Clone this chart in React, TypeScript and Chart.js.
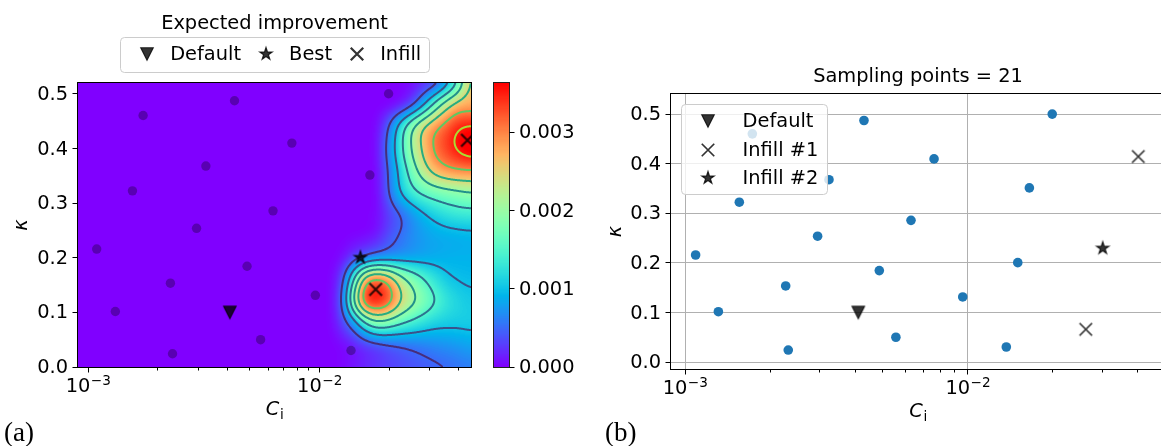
import React, { useEffect, useRef } from 'react';
import { Chart, registerables } from 'chart.js';

Chart.register(...registerables);

/* ---------------- data ---------------- */
// sampling points (C_i, kappa), shared by both panels
const SAMPLE_CI = [0.00109, 0.001312, 0.001556, 0.00173, 0.00227, 0.002318, 0.002944, 0.00323, 0.004295, 0.004866, 0.00557, 0.0063, 0.0076, 0.0096, 0.01369, 0.01503, 0.01652, 0.0199];
const SAMPLE_KAPPA = [0.216, 0.1016, 0.3226, 0.4606, 0.1535, 0.0242, 0.254, 0.368, 0.4875, 0.1845, 0.05, 0.286, 0.41, 0.1313, 0.0303, 0.2006, 0.3515, 0.5004];
const BEST_SAMPLE_INDEX = 15;

const DEFAULT_CI = [0.0041];
const DEFAULT_KAPPA = [0.1];

// panel (a) infill candidates
const EI_INFILL_CI = [0.0175, 0.0436];
const EI_INFILL_KAPPA = [0.1421, 0.4152];

// panel (b)
const INFILL1_CI = [0.02615, 0.0401];
const INFILL1_KAPPA = [0.066, 0.4148];
const INFILL2_CI = [0.03002];
const INFILL2_KAPPA = [0.2297];

const X_MAJOR_TICKS = [0.001, 0.01];
const X_MAJOR_BASE = ['10', '10'];
const X_MAJOR_EXP = ['−3', '−2'];
const X_MINOR_TICKS = [0.002, 0.003, 0.004, 0.005, 0.006, 0.007, 0.008, 0.009, 0.02, 0.03, 0.04];
const Y_TICKS = [0, 0.1, 0.2, 0.3, 0.4, 0.5];
const Y_TICK_LABELS = ['0.0', '0.1', '0.2', '0.3', '0.4', '0.5'];
const CBAR_TICKS = [0, 0.001, 0.002, 0.003];
const CBAR_TICK_LABELS = ['0.000', '0.001', '0.002', '0.003'];
const CONTOUR_LEVELS = [0.0005, 0.001, 0.0015, 0.002, 0.0025, 0.003, 0.0035];

const EI_MAX = 0.00363;
const LEFT_X_RANGE = [0.000905, 0.04518];
const LEFT_Y_RANGE = [0, 0.5201];
const RIGHT_X_RANGE = [0.000892, 0.04986];
const RIGHT_Y_RANGE = [-0.0141, 0.541];

const LEFT_TITLE = 'Expected improvement';
const RIGHT_TITLE = 'Sampling points = 21';
const Y_TITLE = 'κ';
const X_TITLE = 'C';
const X_TITLE_SUB = 'i';

// Expected-improvement field, units of 1e-4
const EI_UNIT = 1e-4;
const EI_GRID_LOG_CI = [-2.0, -1.95, -1.9, -1.85, -1.8, -1.75, -1.7, -1.65, -1.6, -1.55, -1.5, -1.45, -1.4, -1.35];
const EI_GRID_KAPPA = [0, 0.04, 0.08, 0.12, 0.16, 0.2, 0.24, 0.28, 0.32, 0.36, 0.4, 0.44, 0.48, 0.52];
const EI_K00 = [0, 0, 0.3, 1.0, 1.8, 2.4, 3.0, 3.4, 3.8, 4.2, 4.6, 5.0, 5.5, 6.0];
const EI_K04 = [0, 0, 0.5, 1.5, 3.0, 4.0, 4.8, 5.3, 5.8, 6.3, 6.8, 7.2, 7.6, 8.2];
const EI_K08 = [0, 0.2, 3.0, 7.8, 15, 18.5, 17.5, 15.3, 13.7, 12.2, 11.1, 10.7, 10.6, 10.7];
const EI_K12 = [0, 0.3, 5.2, 20.5, 32.8, 34.6, 31.6, 25, 21, 17.8, 15, 12.6, 11.3, 10.6];
const EI_K16 = [0, 0.2, 3.7, 15.5, 28, 31, 28, 22, 18.3, 15.2, 12.6, 10.6, 9.9, 9.6];
const EI_K20 = [0, 0, 0.8, 3.5, 6, 7.5, 8, 8.2, 8.4, 8.6, 8.8, 8.9, 9, 9];
const EI_K24 = [0, 0, 0, 0.3, 0.6, 1.5, 3.8, 5.3, 6.8, 7.8, 8.5, 8.8, 9.0, 9.2];
const EI_K28 = [0, 0, 0, 0, 0.1, 0.5, 3, 5, 7.5, 9.7, 11.3, 12.5, 13.2, 13.5];
const EI_K32 = [0, 0, 0, 0, 0, 0.4, 5, 10, 13.7, 16, 17.5, 18.5, 19.3, 20];
const EI_K36 = [0, 0, 0, 0, 0, 0.5, 5.5, 11.5, 17.5, 22.8, 26.8, 28.8, 29.6, 30];
const EI_K40 = [0, 0, 0, 0, 0, 0.8, 6.5, 13.5, 20.5, 26, 30.8, 33.2, 35.6, 37.2];
const EI_K44 = [0, 0, 0, 0, 0, 0.5, 5, 12, 19, 24.8, 28.8, 31.8, 34.6, 35.4];
const EI_K48 = [0, 0, 0, 0, 0, 0, 0.3, 1.5, 4.3, 9.7, 16.8, 23, 27, 28];
const EI_K52 = [0, 0, 0, 0, 0, 0, 0, 0.1, 0.5, 2, 3.5, 8.5, 16, 26];
const EI_ROWS = [EI_K00, EI_K04, EI_K08, EI_K12, EI_K16, EI_K20, EI_K24, EI_K28, EI_K32, EI_K36, EI_K40, EI_K44, EI_K48, EI_K52];

/* ---------------- styles ---------------- */
const FONT = "'DejaVu Sans', 'Noto Sans', sans-serif";
const FS = 19.4;
const MARK = 'rgba(0,0,0,0.8)';
const BLUE = '#1f77b4';
const CONTOUR_COLORS = ['#472d7b', '#3b528b', '#2c728e', '#21918c', '#27ad81', '#5ec962', '#aadc32'];
const SMOOTH_SIGMA_PX = 5;

/* ---------------- helpers ---------------- */
function rainbowRGB(t: number): [number, number, number] {
  const x = Math.floor(Math.min(1, Math.max(0, t)) * 255.999) / 255;
  const r = Math.min(1, Math.abs(2 * x - 0.5));
  const g = Math.sin(Math.PI * x);
  const b = Math.cos((Math.PI * x) / 2);
  return [Math.round(r * 255), Math.round(g * 255), Math.round(b * 255)];
}

function makeMarker(kind: string, size: number, color: string, lw = 1.6): HTMLCanvasElement {
  let S = Math.ceil(size + 6);
  if (S % 2) S += 1;
  const c = document.createElement('canvas');
  c.width = S;
  c.height = S;
  const g = c.getContext('2d') as CanvasRenderingContext2D;
  const m = S / 2;
  const r = size / 2;
  g.fillStyle = color;
  g.strokeStyle = color;
  g.lineJoin = 'miter';
  g.beginPath();
  if (kind === 'tri') {
    g.moveTo(m - r, m - r);
    g.lineTo(m + r, m - r);
    g.lineTo(m, m + r);
    g.closePath();
    g.lineWidth = lw;
    g.fill();
    g.stroke();
  } else if (kind === 'star') {
    for (let i = 0; i < 10; i++) {
      const ang = -Math.PI / 2 + (i * Math.PI) / 5;
      const rr = i % 2 ? r * 0.381966 : r;
      const px = m + rr * Math.cos(ang);
      const py = m + rr * Math.sin(ang);
      if (i === 0) g.moveTo(px, py);
      else g.lineTo(px, py);
    }
    g.closePath();
    g.lineWidth = lw;
    g.fill();
    g.stroke();
  } else {
    g.lineWidth = lw;
    g.moveTo(m - r, m - r);
    g.lineTo(m + r, m + r);
    g.moveTo(m + r, m - r);
    g.lineTo(m - r, m + r);
    g.stroke();
  }
  return c;
}

function catmull(p0: number, p1: number, p2: number, p3: number, t: number) {
  return 0.5 * (2 * p1 + (p2 - p0) * t + (2 * p0 - 5 * p1 + 4 * p2 - p3) * t * t + (3 * p1 - p0 - 3 * p2 + p3) * t * t * t);
}

function eiAt(logCi: number, kappa: number) {
  const nU = EI_GRID_LOG_CI.length;
  const nK = EI_GRID_KAPPA.length;
  const du = EI_GRID_LOG_CI[1] - EI_GRID_LOG_CI[0];
  const dk = EI_GRID_KAPPA[1] - EI_GRID_KAPPA[0];
  const fx = Math.min(nU - 1, Math.max(0, (logCi - EI_GRID_LOG_CI[0]) / du));
  const fy = Math.min(nK - 1, Math.max(0, (kappa - EI_GRID_KAPPA[0]) / dk));
  const ix = Math.min(nU - 2, Math.floor(fx));
  const iy = Math.min(nK - 2, Math.floor(fy));
  const tx = fx - ix;
  const ty = fy - iy;
  const ci = (i: number) => Math.min(nU - 1, Math.max(0, i));
  const ri = (i: number) => Math.min(nK - 1, Math.max(0, i));
  const v = [0, 0, 0, 0];
  for (let m = 0; m < 4; m++) {
    const R = EI_ROWS[ri(iy - 1 + m)];
    v[m] = catmull(R[ci(ix - 1)], R[ci(ix)], R[ci(ix + 1)], R[ci(ix + 2)], tx);
  }
  return Math.max(0, catmull(v[0], v[1], v[2], v[3], ty)) * EI_UNIT;
}

function gaussBlur(field: Float64Array, W: number, H: number, sigma: number) {
  const r = Math.ceil(sigma * 3);
  const ker: number[] = [];
  let sum = 0;
  for (let i = -r; i <= r; i++) {
    const k = Math.exp((-i * i) / (2 * sigma * sigma));
    ker.push(k);
    sum += k;
  }
  for (let i = 0; i < ker.length; i++) ker[i] /= sum;
  const tmp = new Float64Array(W * H);
  for (let j = 0; j < H; j++) {
    for (let i = 0; i < W; i++) {
      let acc = 0;
      for (let t = -r; t <= r; t++) {
        const ii = Math.min(W - 1, Math.max(0, i + t));
        acc += ker[t + r] * field[j * W + ii];
      }
      tmp[j * W + i] = acc;
    }
  }
  for (let i = 0; i < W; i++) {
    for (let j = 0; j < H; j++) {
      let acc = 0;
      for (let t = -r; t <= r; t++) {
        const jj = Math.min(H - 1, Math.max(0, j + t));
        acc += ker[t + r] * tmp[jj * W + i];
      }
      field[j * W + i] = acc;
    }
  }
}

function xTickObjects() {
  const a: any[] = X_MAJOR_TICKS.map((v) => ({ value: v }));
  X_MINOR_TICKS.forEach((v) => a.push({ value: v, minor: true }));
  return a.sort((p, q) => p.value - q.value);
}

function logXScale(range: number[], heightPx: number, showGrid: boolean) {
  return {
    type: 'logarithmic',
    min: range[0],
    max: range[1],
    bounds: 'data',
    afterBuildTicks: (s: any) => {
      s.ticks = xTickObjects();
    },
    ticks: {
      autoSkip: false,
      maxRotation: 0,
      minRotation: 0,
      padding: 7,
      color: '#000',
      font: { family: FONT, size: FS },
      // major labels (10 with a superscript exponent) are drawn by the decor plugin
      callback: () => '',
    },
    grid: {
      display: showGrid,
      drawTicks: false,
      lineWidth: 1,
      color: (c: any) => (c.tick && c.tick.minor ? 'rgba(0,0,0,0)' : '#b0b0b0'),
    },
    border: { display: false },
    afterFit: (s: any) => {
      s.height = heightPx;
      s.paddingLeft = 0;
      s.paddingRight = 0;
    },
  };
}

function linYScale(range: number[], ticks: number[], labels: string[], widthPx: number, position: string, showGrid: boolean) {
  return {
    type: 'linear',
    position,
    min: range[0],
    max: range[1],
    bounds: 'data',
    afterBuildTicks: (s: any) => {
      s.ticks = ticks.map((v) => ({ value: v }));
    },
    ticks: {
      autoSkip: false,
      padding: 10,
      labelOffset: 1,
      color: '#000',
      font: { family: FONT, size: FS },
      callback: (v: number) => {
        const i = ticks.findIndex((t) => Math.abs(t - v) < 1e-9);
        return i >= 0 ? labels[i] : '';
      },
    },
    grid: { display: showGrid, drawTicks: false, color: '#b0b0b0', lineWidth: 1 },
    border: { display: false },
    afterFit: (s: any) => {
      s.width = widthPx;
      s.paddingTop = 0;
      s.paddingBottom = 0;
    },
  };
}

function drawFrame(ctx: CanvasRenderingContext2D, a: any, color = '#000') {
  ctx.save();
  ctx.strokeStyle = color;
  ctx.lineWidth = 1;
  ctx.strokeRect(a.left - 0.5, a.top - 0.5, a.right - a.left + 1, a.bottom - a.top + 1);
  ctx.restore();
}

function drawTickMarks(chart: any, id: string, side: string) {
  const s = chart.scales[id];
  const a = chart.chartArea;
  const ctx = chart.ctx;
  ctx.save();
  ctx.strokeStyle = '#000';
  ctx.lineWidth = 1;
  ctx.beginPath();
  for (const t of s.ticks) {
    const p = Math.round(s.getPixelForValue(t.value) - 0.5) + 0.5;
    const len = t.minor ? 3 : 5;
    if (side === 'bottom') {
      ctx.moveTo(p, a.bottom + 0.5);
      ctx.lineTo(p, a.bottom + 0.5 + len);
    } else if (side === 'left') {
      ctx.moveTo(a.left - 0.5, p);
      ctx.lineTo(a.left - 0.5 - len, p);
    } else {
      ctx.moveTo(a.right + 0.5, p);
      ctx.lineTo(a.right + 0.5 + len, p);
    }
  }
  ctx.stroke();
  ctx.restore();
}

function drawLogLabels(chart: any) {
  const s = chart.scales.x;
  const a = chart.chartArea;
  const ctx = chart.ctx;
  const fBase = `${FS}px ${FONT}`;
  const fExp = `${(FS * 0.7).toFixed(1)}px ${FONT}`;
  ctx.save();
  ctx.fillStyle = '#000';
  ctx.textAlign = 'left';
  ctx.textBaseline = 'alphabetic';
  const baseline = a.bottom + 25;
  X_MAJOR_TICKS.forEach((v, i) => {
    const p = s.getPixelForValue(v);
    ctx.font = fBase;
    const wb = ctx.measureText(X_MAJOR_BASE[i]).width;
    ctx.font = fExp;
    const we = ctx.measureText(X_MAJOR_EXP[i]).width;
    const x0 = p - (wb + we) / 2;
    ctx.font = fBase;
    ctx.fillText(X_MAJOR_BASE[i], x0, baseline);
    ctx.font = fExp;
    ctx.fillText(X_MAJOR_EXP[i], x0 + wb + 0.5, baseline - 0.36 * FS);
  });
  ctx.restore();
}

function drawXTitle(ctx: CanvasRenderingContext2D, cx: number, baseline: number) {
  ctx.save();
  ctx.fillStyle = '#000';
  ctx.textAlign = 'left';
  ctx.textBaseline = 'alphabetic';
  const fMain = `italic ${FS}px ${FONT}`;
  const fSub = `${(FS * 0.7).toFixed(1)}px ${FONT}`;
  ctx.font = fMain;
  const wC = ctx.measureText(X_TITLE).width;
  ctx.font = fSub;
  const wi = ctx.measureText(X_TITLE_SUB).width;
  const x0 = cx - (wC + wi) / 2;
  ctx.font = fMain;
  ctx.fillText(X_TITLE, x0, baseline);
  ctx.font = fSub;
  ctx.fillText(X_TITLE_SUB, x0 + wC + 0.5, baseline + 0.22 * FS);
  ctx.restore();
}

function drawYTitle(ctx: CanvasRenderingContext2D, cx: number, cy: number) {
  ctx.save();
  ctx.translate(cx, cy);
  ctx.rotate(-Math.PI / 2);
  ctx.fillStyle = '#000';
  ctx.font = `italic ${FS}px ${FONT}`;
  ctx.textAlign = 'center';
  ctx.textBaseline = 'alphabetic';
  ctx.fillText(Y_TITLE, 0, 0.28 * FS);
  ctx.restore();
}

function roundBox(ctx: CanvasRenderingContext2D, x0: number, y0: number, w0: number, h0: number, r = 4) {
  const x = Math.round(x0) + 0.5;
  const y = Math.round(y0) + 0.5;
  const w = Math.round(w0);
  const h = Math.round(h0);
  ctx.save();
  ctx.beginPath();
  ctx.moveTo(x + r, y);
  ctx.arcTo(x + w, y, x + w, y + h, r);
  ctx.arcTo(x + w, y + h, x, y + h, r);
  ctx.arcTo(x, y + h, x, y, r);
  ctx.arcTo(x, y, x + w, y, r);
  ctx.closePath();
  ctx.fillStyle = 'rgba(255,255,255,0.8)';
  ctx.fill();
  ctx.strokeStyle = '#cccccc';
  ctx.lineWidth = 1;
  ctx.stroke();
  ctx.restore();
}

function legendItems(chart: any, n: number) {
  return chart.data.datasets.slice(0, n).map((d: any) => ({ label: d.label, marker: d.pointStyle }));
}

function drawHLegend(ctx: CanvasRenderingContext2D, items: any[], cx: number, top: number, bottom: number) {
  ctx.save();
  ctx.font = `${FS}px ${FONT}`;
  const pad = 0.4 * FS;
  const hl = 2 * FS;
  const tp = 0.18 * FS;
  const cs = 0.3 * FS;
  const ws = items.map((it) => ctx.measureText(it.label).width);
  let W = 2 * pad + cs * (items.length - 1);
  ws.forEach((w) => (W += hl + tp + w));
  const left = cx - W / 2;
  roundBox(ctx, left, top, W, bottom - top);
  const my = (top + bottom) / 2;
  let x = left + pad;
  ctx.fillStyle = '#000';
  ctx.textAlign = 'left';
  ctx.textBaseline = 'alphabetic';
  items.forEach((it, i) => {
    ctx.drawImage(it.marker, Math.round(x + hl / 2 - it.marker.width / 2), Math.round(my - it.marker.height / 2));
    ctx.fillText(it.label, x + hl + tp, my + 5.8);
    x += hl + tp + ws[i] + cs;
  });
  ctx.restore();
}

function drawVLegend(ctx: CanvasRenderingContext2D, items: any[], left: number, top: number) {
  ctx.save();
  ctx.font = `${FS}px ${FONT}`;
  const pad = 0.4 * FS;
  const hl = 2 * FS;
  const tp = 0.8 * FS;
  const maxW = Math.max(...items.map((it) => ctx.measureText(it.label).width));
  const W = 2 * pad + hl + tp + maxW;
  const step = 28.8;
  const first = 16.7;
  const H = first * 2 + step * (items.length - 1) - 1;
  roundBox(ctx, left, top, W, H);
  ctx.fillStyle = '#000';
  ctx.textAlign = 'left';
  ctx.textBaseline = 'alphabetic';
  items.forEach((it, i) => {
    const my = top + first + i * step;
    ctx.drawImage(it.marker, Math.round(left + pad + hl / 2 - it.marker.width / 2), Math.round(my - it.marker.height / 2));
    ctx.fillText(it.label, left + pad + hl + tp, my + 6);
  });
  ctx.restore();
}

/* ---------------- plugins ---------------- */
const eiHeatPlugin = {
  id: 'eiHeat',
  beforeDatasetsDraw(chart: any) {
    const { ctx, chartArea: a } = chart;
    const xs = chart.scales.x;
    const ys = chart.scales.y;
    const L = Math.round(a.left);
    const T = Math.round(a.top);
    const W = Math.round(a.right) - L;
    const H = Math.round(a.bottom) - T;
    const field = new Float64Array(W * H);
    const logCol = new Float64Array(W);
    for (let i = 0; i < W; i++) logCol[i] = Math.log10(xs.getValueForPixel(L + i + 0.5));
    for (let j = 0; j < H; j++) {
      const k = ys.getValueForPixel(T + j + 0.5);
      for (let i = 0; i < W; i++) field[j * W + i] = eiAt(logCol[i], k);
    }
    gaussBlur(field, W, H, SMOOTH_SIGMA_PX);
    const off = document.createElement('canvas');
    off.width = W;
    off.height = H;
    const octx = off.getContext('2d') as CanvasRenderingContext2D;
    const img = octx.createImageData(W, H);
    for (let p = 0; p < W * H; p++) {
      const c = rainbowRGB(field[p] / EI_MAX);
      img.data[p * 4] = c[0];
      img.data[p * 4 + 1] = c[1];
      img.data[p * 4 + 2] = c[2];
      img.data[p * 4 + 3] = 255;
    }
    octx.putImageData(img, 0, 0);
    ctx.save();
    ctx.drawImage(off, L, T);
    ctx.beginPath();
    ctx.rect(L, T, W, H);
    ctx.clip();
    ctx.lineWidth = 2;
    ctx.lineCap = 'round';
    ctx.lineJoin = 'round';
    CONTOUR_LEVELS.forEach((lev, li) => {
      ctx.strokeStyle = CONTOUR_COLORS[li];
      ctx.beginPath();
      for (let j = 0; j < H - 1; j++) {
        for (let i = 0; i < W - 1; i++) {
          const va = field[j * W + i];
          const vb = field[j * W + i + 1];
          const vc = field[(j + 1) * W + i + 1];
          const vd = field[(j + 1) * W + i];
          let idx = 0;
          if (va > lev) idx |= 8;
          if (vb > lev) idx |= 4;
          if (vc > lev) idx |= 2;
          if (vd > lev) idx |= 1;
          if (idx === 0 || idx === 15) continue;
          const x0 = L + i + 0.5;
          const y0 = T + j + 0.5;
          const top = () => [x0 + (lev - va) / (vb - va), y0];
          const right = () => [x0 + 1, y0 + (lev - vb) / (vc - vb)];
          const bottom = () => [x0 + (lev - vd) / (vc - vd), y0 + 1];
          const left = () => [x0, y0 + (lev - va) / (vd - va)];
          const seg = (p: number[], q: number[]) => {
            ctx.moveTo(p[0], p[1]);
            ctx.lineTo(q[0], q[1]);
          };
          switch (idx) {
            case 1: case 14: seg(left(), bottom()); break;
            case 2: case 13: seg(bottom(), right()); break;
            case 3: case 12: seg(left(), right()); break;
            case 4: case 11: seg(top(), right()); break;
            case 6: case 9: seg(top(), bottom()); break;
            case 7: case 8: seg(left(), top()); break;
            case 5: seg(left(), top()); seg(bottom(), right()); break;
            case 10: seg(top(), right()); seg(left(), bottom()); break;
            default: break;
          }
        }
      }
      ctx.stroke();
    });
    ctx.restore();
  },
};

const cbarPlugin = {
  id: 'cbarFill',
  beforeDatasetsDraw(chart: any) {
    const { ctx, chartArea: a } = chart;
    const ys = chart.scales.y;
    const L = Math.round(a.left);
    const T = Math.round(a.top);
    const W = Math.round(a.right) - L;
    const H = Math.round(a.bottom) - T;
    ctx.save();
    for (let j = 0; j < H; j++) {
      const v = ys.getValueForPixel(T + j + 0.5);
      const c = rainbowRGB(v / EI_MAX);
      ctx.fillStyle = `rgb(${c[0]},${c[1]},${c[2]})`;
      ctx.fillRect(L, T + j, W, 1);
    }
    ctx.restore();
  },
  afterDraw(chart: any) {
    drawFrame(chart.ctx, chart.chartArea, '#222');
    drawTickMarks(chart, 'y', 'right');
  },
};

/* ---------------- charts ---------------- */
function pts(xs: number[], ys: number[]) {
  return xs.map((x, i) => ({ x, y: ys[i] }));
}

function makeLeft(canvas: HTMLCanvasElement) {
  const tri = makeMarker('tri', 12.5, MARK, 1.2);
  const star = makeMarker('star', 13, MARK, 1.2);
  const cross = makeMarker('x', 12.5, MARK, 2.2);
  const samples = pts(SAMPLE_CI, SAMPLE_KAPPA).filter((_, i) => i !== BEST_SAMPLE_INDEX);
  const decor = {
    id: 'leftDecor',
    afterDraw(chart: any) {
      const { ctx, chartArea: a } = chart;
      drawFrame(ctx, a);
      drawTickMarks(chart, 'x', 'bottom');
      drawTickMarks(chart, 'y', 'left');
      drawLogLabels(chart);
      const cx = (a.left + a.right) / 2;
      drawXTitle(ctx, cx, a.bottom + 48);
      drawYTitle(ctx, 21.5, (a.top + a.bottom) / 2);
      ctx.save();
      ctx.font = `${FS}px ${FONT}`;
      ctx.fillStyle = '#000';
      ctx.textAlign = 'center';
      ctx.textBaseline = 'alphabetic';
      ctx.fillText(LEFT_TITLE, cx, 29.3);
      ctx.restore();
      drawHLegend(ctx, legendItems(chart, 3), cx, 36.7, 71.7);
    },
  };
  return new Chart(canvas, {
    type: 'scatter',
    data: {
      datasets: [
        { label: 'Default', data: pts(DEFAULT_CI, DEFAULT_KAPPA), pointStyle: tri, pointRadius: 7, clip: 0 },
        { label: 'Best', data: [{ x: SAMPLE_CI[BEST_SAMPLE_INDEX], y: SAMPLE_KAPPA[BEST_SAMPLE_INDEX] }], pointStyle: star, pointRadius: 7, clip: 0 },
        { label: 'Infill', data: pts(EI_INFILL_CI, EI_INFILL_KAPPA), pointStyle: cross, pointRadius: 7, clip: 0 },
        { label: 'samples', data: samples, pointStyle: 'circle', pointRadius: 4.7, backgroundColor: 'rgba(0,0,0,0.3)', borderWidth: 0, clip: 0 },
      ],
    } as any,
    options: {
      animation: false,
      responsive: false,
      devicePixelRatio: 1,
      events: [],
      layout: { padding: { left: 0, right: 77, top: 83, bottom: 0 } },
      plugins: { legend: { display: false }, tooltip: { enabled: false } },
      scales: {
        x: logXScale(LEFT_X_RANGE, 79, false),
        y: linYScale(LEFT_Y_RANGE, Y_TICKS, Y_TICK_LABELS, 78, 'left', false),
      },
    } as any,
    plugins: [eiHeatPlugin, decor],
  });
}

function makeCbar(canvas: HTMLCanvasElement) {
  return new Chart(canvas, {
    type: 'scatter',
    data: { datasets: [] },
    options: {
      animation: false,
      responsive: false,
      devicePixelRatio: 1,
      events: [],
      layout: { padding: { left: 14, right: 0, top: 83, bottom: 79 } },
      plugins: { legend: { display: false }, tooltip: { enabled: false } },
      scales: {
        x: { display: false, min: 0, max: 1 },
        y: linYScale([0, EI_MAX], CBAR_TICKS, CBAR_TICK_LABELS, 81, 'right', false),
      },
    } as any,
    plugins: [cbarPlugin],
  });
}

function makeRight(canvas: HTMLCanvasElement) {
  const tri = makeMarker('tri', 12.5, MARK, 1.2);
  const star = makeMarker('star', 13, MARK, 1.2);
  const cross = makeMarker('x', 12.5, MARK, 1.7);
  const decor = {
    id: 'rightDecor',
    afterDatasetsDraw(chart: any) {
      drawVLegend(chart.ctx, legendItems(chart, 3), chart.chartArea.left + 9.5, chart.chartArea.top + 10);
    },
    afterDraw(chart: any) {
      const { ctx, chartArea: a } = chart;
      drawFrame(ctx, a);
      drawTickMarks(chart, 'x', 'bottom');
      drawTickMarks(chart, 'y', 'left');
      drawLogLabels(chart);
      const cx = (a.left + a.right) / 2;
      drawXTitle(ctx, cx, a.bottom + 48);
      drawYTitle(ctx, 16, (a.top + a.bottom) / 2);
      ctx.save();
      ctx.font = `${FS}px ${FONT}`;
      ctx.fillStyle = '#000';
      ctx.textAlign = 'center';
      ctx.textBaseline = 'alphabetic';
      ctx.fillText(RIGHT_TITLE, cx, 81.5);
      ctx.restore();
    },
  };
  return new Chart(canvas, {
    type: 'scatter',
    data: {
      datasets: [
        { label: 'Default', data: pts(DEFAULT_CI, DEFAULT_KAPPA), pointStyle: tri, pointRadius: 7, clip: 0 },
        { label: 'Infill #1', data: pts(INFILL1_CI, INFILL1_KAPPA), pointStyle: cross, pointRadius: 7, clip: 0 },
        { label: 'Infill #2', data: pts(INFILL2_CI, INFILL2_KAPPA), pointStyle: star, pointRadius: 7, clip: 0 },
        { label: 'samples', data: pts(SAMPLE_CI, SAMPLE_KAPPA), pointStyle: 'circle', pointRadius: 4.8, backgroundColor: BLUE, borderWidth: 0, clip: 0 },
      ],
    } as any,
    options: {
      animation: false,
      responsive: false,
      devicePixelRatio: 1,
      events: [],
      layout: { padding: { left: 0, right: 35, top: 94, bottom: 0 } },
      plugins: { legend: { display: false }, tooltip: { enabled: false } },
      scales: {
        x: logXScale(RIGHT_X_RANGE, 77, true),
        y: linYScale(RIGHT_Y_RANGE, Y_TICKS, Y_TICK_LABELS, 71, 'left', true),
      },
    } as any,
    plugins: [decor],
  });
}

/* ---------------- component ---------------- */
export default function App() {
  const leftRef = useRef<HTMLCanvasElement>(null);
  const cbarRef = useRef<HTMLCanvasElement>(null);
  const rightRef = useRef<HTMLCanvasElement>(null);

  useEffect(() => {
    const charts = [
      makeLeft(leftRef.current as HTMLCanvasElement),
      makeCbar(cbarRef.current as HTMLCanvasElement),
      makeRight(rightRef.current as HTMLCanvasElement),
    ];
    return () => charts.forEach((c) => c.destroy());
  }, []);

  const panelLabel: React.CSSProperties = {
    position: 'absolute',
    top: 417,
    fontFamily: "'Liberation Serif', 'Times New Roman', serif",
    fontSize: 27,
    lineHeight: '30px',
    color: '#000',
  };

  return (
    <div style={{ position: 'absolute', left: 0, top: 0, width: 1161, height: 446, overflow: 'hidden', background: '#fff' }}>
      <canvas ref={leftRef} width={548} height={446} style={{ position: 'absolute', left: 0, top: 0, width: 548, height: 446 }} />
      <canvas ref={cbarRef} width={110} height={446} style={{ position: 'absolute', left: 480, top: 0, width: 110, height: 446 }} />
      <canvas ref={rightRef} width={600} height={446} style={{ position: 'absolute', left: 600, top: 0, width: 600, height: 446 }} />
      <div style={{ ...panelLabel, left: 4 }}>(a)</div>
      <div style={{ ...panelLabel, left: 605 }}>(b)</div>
    </div>
  );
}
